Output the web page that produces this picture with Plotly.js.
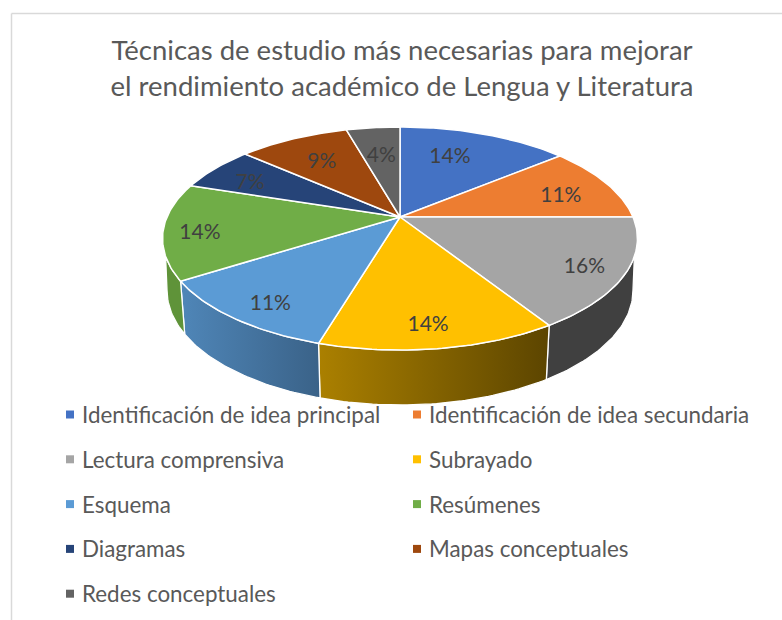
<!DOCTYPE html>
<html><head><meta charset="utf-8">
<script src="https://cdn.plot.ly/plotly-3.0.1.min.js"></script>
<style>html,body{margin:0;padding:0;background:#fff}</style></head>
<body><div id="chart" style="width:782px;height:620px"></div>
<script>
const titleLines = ["Técnicas de estudio más necesarias para mejorar","el rendimiento académico de Lengua y Literatura"];
const categories = ["Identificación de idea principal","Identificación de idea secundaria","Lectura comprensiva","Subrayado","Esquema","Resúmenes","Diagramas","Mapas conceptuales","Redes conceptuales"];
const shares = [14,11,16,13.6,11.4,14,6.5,9.1,4.4];
const colors = ["#4472C4","#ED7D31","#A5A5A5","#FFC000","#5B9BD5","#70AD47","#264478","#9E480E","#636363"];
const wallGradients = [null,null,["#404040","#404040"],["#AB8000","#5C4500"],["#4F86B8","#3A6288"],["#5F9339","#5F9339"],null,null,null];
const labelRadius = [0.68,0.75,0.84,0.84,0.845,0.847,0.77,0.69,0.656];
const labelTurn = [-4.5,3.2,1.2,1,-2.3,-2,-2.8,-0.5,0];

// perspective view of the disc (top and bottom faces)
const topFace = {cx:400, cy:217, B:233, A:107.4, k:0.193};
const botFace = {cx:400, cy:268.4, B:228.6, A:110.2, k:0.193};
const topRim = [110,250], botRim = [101,259];
function project(f, deg, r){
  const t = deg*Math.PI/180, X = r*Math.sin(t), Y = r*Math.cos(t), d = 1+f.k*Y;
  return [f.cx+f.B*X/d, f.cy-f.A*Y/d];
}
function arc(f, a, b){
  const n = Math.max(2, Math.ceil(Math.abs(b-a))), pts = [];
  for(let i=0;i<=n;i++) pts.push(project(f, a+(b-a)*i/n, 1));
  return pts;
}
const total = shares.reduce((s,v)=>s+v,0);
const starts = []; let run = 0;
shares.forEach(v=>{starts.push(run/total*360); run+=v;});
const ends = shares.map((v,i)=>starts[i]+v/total*360);

const traces = [];
// walls for the part of the rim facing the viewer
shares.forEach((v,i)=>{
  if(!wallGradients[i]) return;
  const pts = arc(topFace,Math.max(starts[i],topRim[0]),Math.min(ends[i],topRim[1]))
    .concat(arc(botFace,Math.max(starts[i],botRim[0]),Math.min(ends[i],botRim[1])).reverse());
  pts.push(pts[0]);
  const g = wallGradients[i];
  traces.push({type:"scatter",mode:"lines",x:pts.map(p=>p[0]),y:pts.map(p=>p[1]),fill:"toself",
    fillgradient:{type:"horizontal",colorscale:[[0,g[0]],[1,g[1]]]},
    line:{color:"#ffffff",width:1.3},hoverinfo:"skip",showlegend:false});
});
// top face
shares.forEach((v,i)=>{
  const pts = [[topFace.cx,topFace.cy]].concat(arc(topFace,starts[i],ends[i]));
  pts.push(pts[0]);
  traces.push({type:"scatter",mode:"lines",name:categories[i],x:pts.map(p=>p[0]),y:pts.map(p=>p[1]),fill:"toself",
    fillcolor:colors[i],line:{color:"#ffffff",width:1.5},hoverinfo:"name",showlegend:false});
});
// percentage labels
const lab = shares.map((v,i)=>project(topFace,(starts[i]+ends[i])/2+labelTurn[i],labelRadius[i]));
traces.push({type:"scatter",mode:"text",x:lab.map(p=>p[0]),y:lab.map(p=>p[1]+2),
  text:shares.map(v=>Math.round(v/total*100)+"%"),textposition:"middle center",
  textfont:{family:"Lato, sans-serif",size:21,color:"#404040"},hoverinfo:"skip",showlegend:false});
// legend grid
const keyX = categories.map((c,i)=>i%2?417:70);
const keyY = categories.map((c,i)=>414.5+Math.floor(i/2)*44.8);
traces.push({type:"scatter",mode:"markers",x:keyX,y:keyY,marker:{symbol:"square",size:8,color:colors},hoverinfo:"skip",showlegend:false});
traces.push({type:"scatter",mode:"text",x:keyX.map(v=>v+12),y:keyY.map(v=>v+3),text:categories,textposition:"middle right",
  textfont:{family:"Lato, sans-serif",size:22.4,color:"#595959"},hoverinfo:"skip",showlegend:false});

const layout = {
  width:782,height:620,margin:{l:0,r:0,t:0,b:0},paper_bgcolor:"#fff",plot_bgcolor:"#fff",showlegend:false,
  xaxis:{range:[0,782],visible:false,fixedrange:true},
  yaxis:{range:[620,0],visible:false,fixedrange:true},
  title:{text:titleLines.join("<br>"),x:402/782,xanchor:"center",y:0.903,yanchor:"top",
    font:{family:"Lato, sans-serif",size:27.5,color:"#595959"}},
  shapes:[
    {type:"line",xref:"paper",yref:"paper",x0:11.5/782,x1:1,y0:1-13.5/620,y1:1-13.5/620,line:{color:"#D9D9D9",width:1.5}},
    {type:"line",xref:"paper",yref:"paper",x0:11.5/782,x1:11.5/782,y0:0,y1:1-13.5/620,line:{color:"#D9D9D9",width:1.5}}
  ]
};
Plotly.newPlot("chart",traces,layout,{displayModeBar:false});
</script></body></html>
